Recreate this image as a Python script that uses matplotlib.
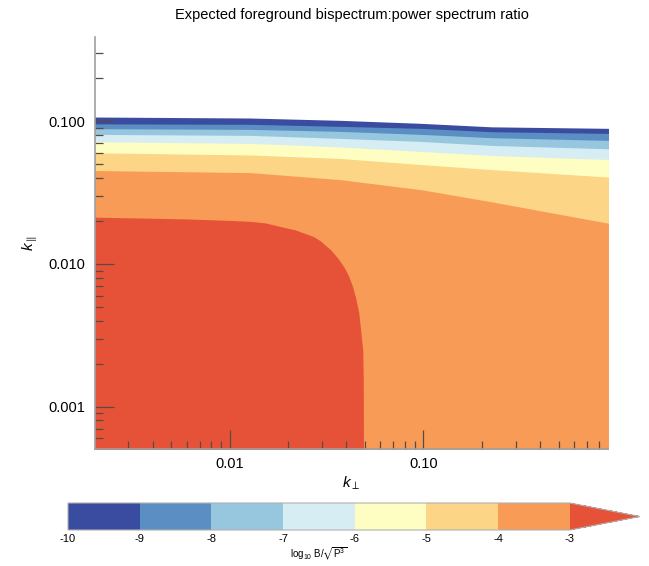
import numpy as np
import matplotlib
matplotlib.use("Agg")
import matplotlib.pyplot as plt
from matplotlib.colors import ListedColormap, BoundaryNorm
from matplotlib.cm import ScalarMappable

plt.rcParams['font.family'] = ['Liberation Sans', 'DejaVu Sans']
plt.rcParams['mathtext.fontset'] = 'custom'
plt.rcParams['mathtext.rm'] = 'Liberation Sans'
plt.rcParams['mathtext.it'] = 'Liberation Sans:italic'
plt.rcParams['mathtext.fallback'] = 'stixsans'

# contour levels of log10 B/sqrt(P^3)
levels = [-10, -9, -8, -7, -6, -5, -4, -3]
band_colors = ['#3a4c9f', '#5b8fc3', '#97c7df', '#d7edf4',
               '#fefec2', '#fdd586', '#f89b56']
over_color = '#e65237'

# contour line positions (k_par at given k_perp)
kperp_bands = [0.0020, 0.0128, 0.0374, 0.0970, 0.224, 0.90]
kpar_m10 = [0.1072, 0.1055, 0.1016, 0.0968, 0.0915, 0.0893]
kpar_m9 = [0.0960, 0.0953, 0.0922, 0.0893, 0.0846, 0.0823]
kpar_m8 = [0.0888, 0.0878, 0.0850, 0.0810, 0.0768, 0.0735]
kpar_m7 = [0.0810, 0.0797, 0.0759, 0.0723, 0.0678, 0.0642]
kpar_m6 = [0.0719, 0.0700, 0.0661, 0.0615, 0.0576, 0.0540]
kpar_m5 = [0.0602, 0.0581, 0.0549, 0.0498, 0.0459, 0.0407]
kpar_m4 = [0.0452, 0.0437, 0.0390, 0.0332, 0.0273, 0.0193]

# -3 contour: closed corner region at low k_perp / low k_par
kperp_m3 = [0.0020, 0.0060, 0.0101, 0.0128, 0.0153, 0.0183, 0.0218, 0.0271,
            0.0294, 0.0332, 0.0361, 0.0388, 0.0411, 0.0431, 0.0447, 0.0464,
            0.0474, 0.0486, 0.0489, 0.0492]
kpar_m3 = [0.0213, 0.0207, 0.0202, 0.0199, 0.0194, 0.0183, 0.01735, 0.01556,
           0.01452, 0.01256, 0.01102, 0.00958, 0.00823, 0.00692, 0.00577, 0.00452,
           0.00343, 0.00248, 0.00152, 0.0001]

fig = plt.figure(figsize=(6.49, 5.66), dpi=100)
ax = fig.add_axes([95/649, 117/566, 513/649, 412/566])

# layered fills: each contour region painted over the previous one
boundaries = [kpar_m10, kpar_m9, kpar_m8, kpar_m7, kpar_m6, kpar_m5, kpar_m4]
for kpar, col in zip(boundaries, band_colors):
    ax.fill_between(kperp_bands, 1e-4, kpar, color=col, lw=0)
ax.fill_between(kperp_m3, 1e-4, kpar_m3, color=over_color, lw=0)

ax.set_xscale('log')
ax.set_yscale('log')
ax.set_xlim(0.00202, 0.895)
ax.set_ylim(0.000505, 0.39)

ax.set_xticks([0.01, 0.1], ['0.01', '0.10'])
ax.set_yticks([0.1, 0.01, 0.001], ['0.100', '0.010', '0.001'])
ax.tick_params(which='both', direction='in', color='#5a4a44', labelsize=10.5)
ax.tick_params(which='major', length=14, width=0.9)
ax.tick_params(which='minor', length=6, width=0.9)
ax.tick_params(axis='y', pad=7)
ax.tick_params(axis='x', pad=6)

for s in ['top', 'right']:
    ax.spines[s].set_visible(False)
for s in ['left', 'bottom']:
    ax.spines[s].set_color('#a0a0a0')
    ax.spines[s].set_linewidth(1.2)

ax.set_xlabel(r'$k_{\perp}$', fontsize=11, labelpad=2)
ax.set_ylabel(r'$k_{\parallel}$', fontsize=11, labelpad=6)
ax.set_title('Expected foreground bispectrum:power spectrum ratio', fontsize=10.5, pad=13)

# colorbar
cmap = ListedColormap(band_colors)
cmap.set_over(over_color)
norm = BoundaryNorm(levels, cmap.N)
cax = fig.add_axes([68/649, 36/566, 572/649, 27/566])
cb = fig.colorbar(ScalarMappable(norm=norm, cmap=cmap), cax=cax,
                  orientation='horizontal', extend='max', extendfrac=0.14)
cb.set_ticks(levels)
cb.set_ticklabels([str(v) for v in levels])
cb.ax.tick_params(length=0, labelsize=8, pad=3)
cb.outline.set_edgecolor('#b0b0b0')
cb.outline.set_linewidth(0.8)
cb.set_label(r'log$_{10}$ B/$\sqrt{\mathrm{P}^3}$', fontsize=7, labelpad=1)

fig.savefig('out.png', dpi=100)
